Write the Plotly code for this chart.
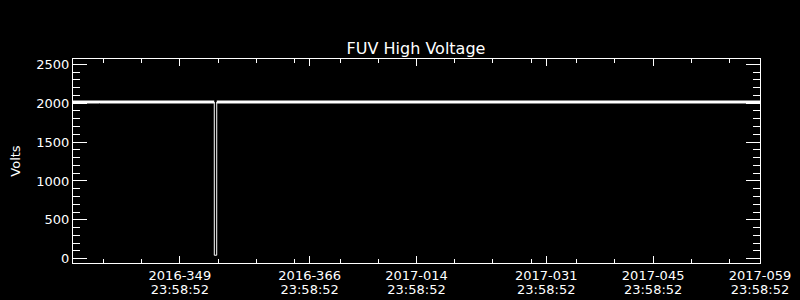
import plotly.graph_objects as go

# ---- data ----
main_times = [
    "2016-11-30 23:58:52", "2016-12-04 10:00:00", "2016-12-04 11:00:00", "2016-12-04 12:00:00",
    "2016-12-16 11:00:00", "2016-12-16 12:00:00", "2016-12-16 13:00:00",
    "2016-12-18 22:00:00", "2016-12-18 23:00:00", "2016-12-19 00:00:00",
    "2016-12-19 12:10:00", None,
    "2016-12-19 19:55:00", "2017-02-13 10:00:00", "2017-02-13 11:00:00", "2017-02-13 12:00:00",
    "2017-02-28 23:58:52",
]
main_volts = [
    2015, 2015, 2005, 2015,
    2015, 2000, 2015,
    2015, 2030, 2015,
    2015, None,
    2015, 2015, 2000, 2015,
    2015,
]
dip_times = ["2016-12-19 12:10:00", "2016-12-19 12:15:00", "2016-12-19 19:50:00", "2016-12-19 19:55:00"]
dip_volts = [2015, 45, 45, 2015]

x_major = ["2016-12-14 23:58:52", "2016-12-31 23:58:52", "2017-01-14 23:58:52",
           "2017-01-31 23:58:52", "2017-02-14 23:58:52", "2017-02-28 23:58:52"]
x_labels_day = ["2016-349", "2016-366", "2017-014", "2017-031", "2017-045", "2017-059"]
x_labels_time = ["23:58:52", "23:58:52", "23:58:52", "23:58:52", "23:58:52", "23:58:52"]
x_minor = ["2016-12-04 23:58:52", "2016-12-09 23:58:52", "2016-12-19 23:58:52",
           "2016-12-24 23:58:52", "2016-12-29 23:58:52", "2017-01-04 23:58:52",
           "2017-01-09 23:58:52", "2017-01-19 23:58:52", "2017-01-24 23:58:52",
           "2017-01-29 23:58:52", "2017-02-04 23:58:52", "2017-02-09 23:58:52",
           "2017-02-19 23:58:52", "2017-02-24 23:58:52"]
x_range = ["2016-11-30 23:58:52", "2017-02-28 23:58:52"]
y_ticks = [0, 500, 1000, 1500, 2000, 2500]
y_minor = [100, 200, 300, 400, 600, 700, 800, 900, 1100, 1200, 1300, 1400,
           1600, 1700, 1800, 1900, 2100, 2200, 2300, 2400]
y_range = [-55, 2568]

W = "#ffffff"
font = dict(family="DejaVu Sans", color=W)

fig = go.Figure()
fig.add_trace(go.Scatter(x=main_times, y=main_volts, mode="lines", xaxis="x", yaxis="y",
                         line=dict(color=W, width=3), connectgaps=False,
                         hoverinfo="skip", showlegend=False))
fig.add_trace(go.Scatter(x=dip_times, y=dip_volts, mode="lines", xaxis="x", yaxis="y",
                         line=dict(color=W, width=1),
                         hoverinfo="skip", showlegend=False))
# empty traces that only register the overlay axes (minor ticks / second label row)
for xa, ya in (("x2", "y"), ("x3", "y"), ("x", "y2")):
    fig.add_trace(go.Scatter(x=[], y=[], mode="lines", xaxis=xa, yaxis=ya,
                             hoverinfo="skip", showlegend=False))

common_x = dict(type="date", range=x_range, showgrid=False, zeroline=False,
                automargin=False, fixedrange=True)
common_y = dict(range=y_range, showgrid=False, zeroline=False,
                automargin=False, fixedrange=True)

fig.update_layout(
    width=800, height=300,
    paper_bgcolor="#000000", plot_bgcolor="#000000",
    margin=dict(l=73, r=40, t=59, b=37, autoexpand=False),
    title=dict(text="FUV High Voltage", x=416 / 800, xanchor="center",
               y=1 - 48 / 300, yanchor="middle", font=dict(size=16, **font)),
    font=dict(size=13, **font),
    showlegend=False,
    xaxis=dict(
        **common_x,
        showline=True, linecolor=W, linewidth=1, mirror="ticks",
        ticks="inside", ticklen=7, tickcolor=W, tickwidth=1,
        tickmode="array", tickvals=x_major, ticktext=x_labels_day,
        tickfont=dict(size=13, **font),
    ),
    xaxis2=dict(
        **common_x, overlaying="x", anchor="y", side="bottom",
        showline=True, linecolor=W, linewidth=1, mirror="ticks",
        ticks="inside", ticklen=4, tickcolor=W, tickwidth=1,
        tickmode="array", tickvals=x_minor, showticklabels=False,
    ),
    xaxis3=dict(
        **common_x, overlaying="x", anchor="y", side="bottom",
        showline=False, ticks="",
        tickmode="array", tickvals=x_major, ticktext=x_labels_time,
        tickfont=dict(size=13, **font), ticklabelstandoff=17,
    ),
    yaxis=dict(
        **common_y,
        showline=True, linecolor=W, linewidth=1, mirror="ticks",
        ticks="inside", ticklen=14, tickcolor=W, tickwidth=1,
        tickmode="array", tickvals=y_ticks, tickfont=dict(size=13, **font),
        title=dict(text="Volts", font=dict(size=13, **font), standoff=12),
    ),
    yaxis2=dict(
        **common_y, overlaying="y", anchor="x", side="left",
        showline=True, linecolor=W, linewidth=1, mirror="ticks",
        ticks="inside", ticklen=7, tickcolor=W, tickwidth=1,
        tickmode="array", tickvals=y_minor, showticklabels=False,
    ),
)
fig.write_html("out.html")
